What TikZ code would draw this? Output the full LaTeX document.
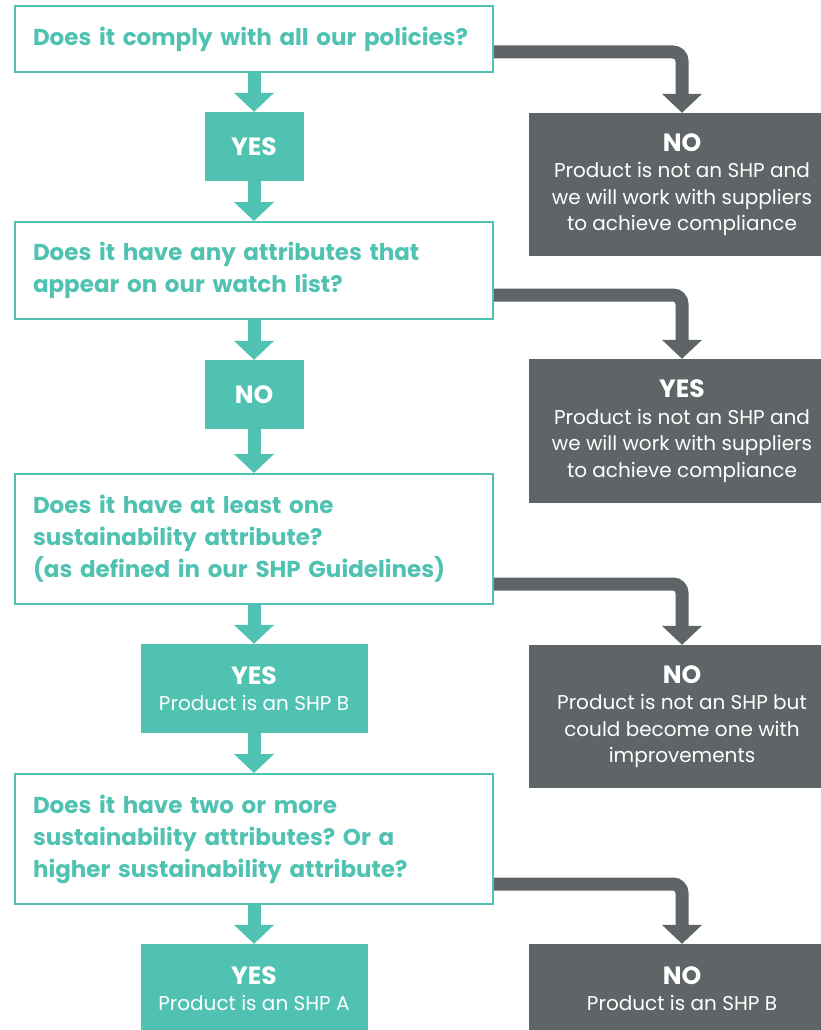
\documentclass[tikz,border=0pt]{standalone}
\usepackage{fontspec}
\setmainfont{Poppins}
\usepackage{tikz}
\usetikzlibrary{arrows.meta}
\definecolor{shpteal}{RGB}{80,194,178}
\definecolor{shpgrey}{RGB}{95,100,103}
\frenchspacing

\tikzset{
  question/.style={draw=shpteal, line width=2pt, fill=white, text=shpteal,
    font=\fontsize{23}{32}\selectfont\bfseries, text width=442pt,
    inner xsep=18pt, inner ysep=0pt, align=left, minimum width=478pt},
  answer/.style={fill=shpteal, text=white, font=\fontsize{20}{26.5}\selectfont,
    align=center, inner sep=0pt},
  outcome/.style={fill=shpgrey, text=white, font=\fontsize{20}{26.5}\selectfont,
    align=center, inner sep=0pt, minimum width=306pt},
  down/.style={shpteal, line width=13pt, -{Triangle[width=39pt,length=19pt]}},
  side/.style={shpgrey, line width=13pt, rounded corners=9pt,
    -{Triangle[width=39pt,length=19pt]}},
}
\newcommand{\verdict}[1]{{\bfseries\fontsize{25}{26.5}\selectfont #1}}

\begin{document}
\begin{tikzpicture}[x=1pt,y=1pt,yscale=-1]
	\useasboundingbox (0,0) rectangle (821,1030);

	% Questions
	\node[question, minimum height=66pt] (q1) at (254,39) {Does it comply with all our policies?};
	\node[question, minimum height=97pt] (q2) at (254,270.5) {Does it have any attributes that\\appear on our watch list?};
	\node[question, minimum height=130pt] (q3) at (254,539) {Does it have at least one\\sustainability attribute?\\(as defined in our SHP Guidelines)};
	\node[question, minimum height=130pt] (q4) at (254,839) {Does it have two or more\\sustainability attributes? Or a\\higher sustainability attribute?};

	% Answers down the left
	\node[answer, minimum width=99pt, minimum height=69pt] (a1) at (254,146.5) {\verdict{YES}};
	\node[answer, minimum width=99pt, minimum height=69pt] (a2) at (254,394.5) {\verdict{NO}};
	\node[answer, minimum width=227pt, minimum height=89pt] (a3) at (254,688.5) {\verdict{YES}\\Product is an SHP B};
	\node[answer, minimum width=227pt, minimum height=89pt] (a4) at (254,988.5) {\verdict{YES}\\Product is an SHP A};

	% Outcomes on the right
	\node[outcome, minimum height=143pt] (o1) at (682,184.5) {\verdict{NO}\\Product is not an SHP and\\we will work with suppliers\\to achieve compliance};
	\node[outcome, minimum height=144pt] (o2) at (682,431) {\verdict{YES}\\Product is not an SHP and\\we will work with suppliers\\to achieve compliance};
	\node[outcome, minimum height=143pt] (o3) at (682,716.5) {\verdict{NO}\\Product is not an SHP but\\could become one with\\improvements};
	\node[outcome, minimum height=89pt] (o4) at (682,988.5) {\verdict{NO}\\Product is an SHP B};

	% Main flow
	\draw[down] (q1) -- (a1);
	\draw[down] (a1) -- (q2);
	\draw[down] (q2) -- (a2);
	\draw[down] (a2) -- (q3);
	\draw[down] (q3) -- (a3);
	\draw[down] (a3) -- (q4);
	\draw[down] (q4) -- (a4);

	% Side branches
	\draw[side] ([yshift=-21pt]q1.south east) -| (o1.north);
	\draw[side] ([yshift=-25pt]q2.south east) -| (o2.north);
	\draw[side] ([yshift=-21pt]q3.south east) -| (o3.north);
	\draw[side] ([yshift=-21pt]q4.south east) -| (o4.north);
\end{tikzpicture}
\end{document}
